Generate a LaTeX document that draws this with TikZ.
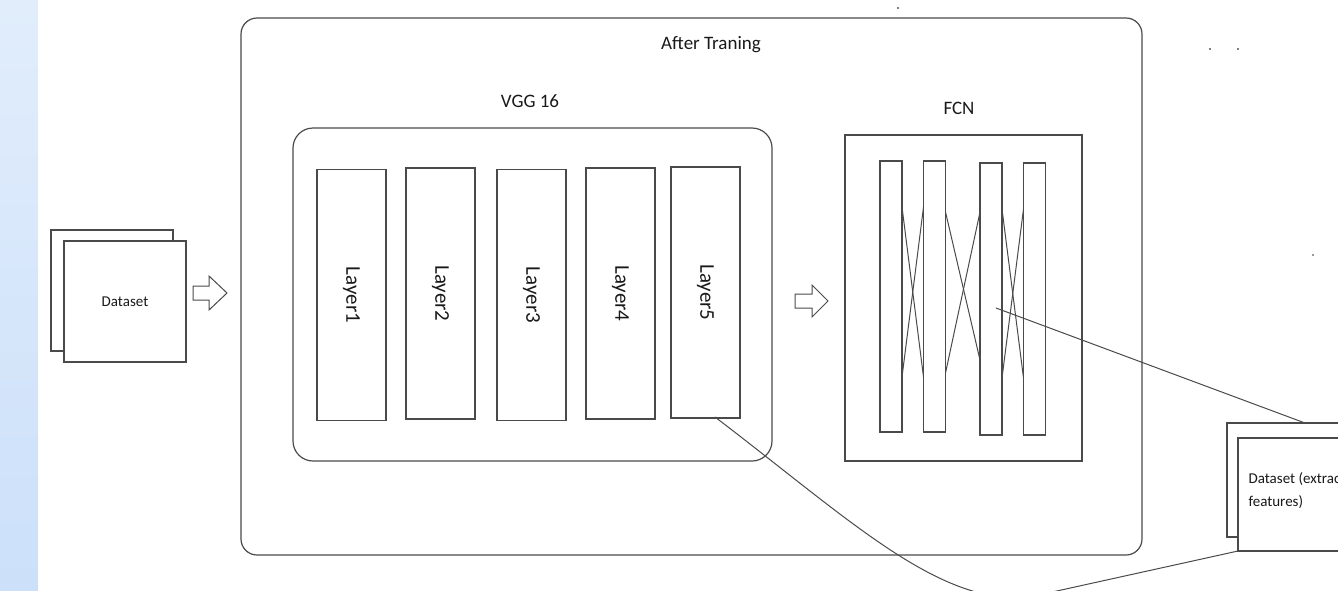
\documentclass[tikz,border=0pt]{standalone}
\usepackage{fontspec}
\setmainfont{Carlito}

\definecolor{stripTop}{HTML}{E1EDFB}
\definecolor{stripBot}{HTML}{CCE0FA}
\definecolor{lineGray}{HTML}{4A4A4A}

\tikzset{
  boxline/.style={draw=lineGray, line width=1.2pt, fill=white, inner sep=0pt, outer sep=0pt},
  layerbox/.style={boxline, minimum width=69pt, minimum height=251pt},
  fcncol/.style={boxline, minimum width=22pt},
  title/.style={font=\fontsize{19}{22}\selectfont, text=black!90},
  hollow/.style={draw=lineGray, line width=1pt, fill=white, line join=miter}
}

\begin{document}
\begin{tikzpicture}[x=1pt, y=-1pt, line width=1.2pt]
    \useasboundingbox (0,0) rectangle (1338,590);
    \clip (0,0) rectangle (1338,590);

    % blue strip on the left
    \shade[top color=stripTop, bottom color=stripBot] (0,0) rectangle (38,590);

    % input dataset (stack of two sheets)
    \node[boxline, minimum width=122pt, minimum height=121pt] (databack) at (112,290.5) {};
    \node[boxline, minimum width=122pt, minimum height=121pt,
          font=\fontsize{15}{18}\selectfont, text=black!90] (data) at (125,301.5) {Dataset};

    % hollow arrow into the trained model
    \draw[hollow] (193,286) -- (209,286) -- (209,276) -- (227,293) -- (209,310) -- (209,300) -- (193,300) -- cycle;

    % outer frame: after training
    \node[boxline, fill=none, rounded corners=16pt, minimum width=901pt, minimum height=537pt] (after) at (691.5,286.5) {};
    \node[title] (aftertitle) at (711,45) {After Traning};

    % VGG 16 block
    \node[boxline, rounded corners=20pt, minimum width=479pt, minimum height=333pt] (vgg) at (532.5,294.5) {};
    \node[title] (vggtitle) at (530,101) {VGG 16};

    \foreach \name/\cx/\cy/\txt in {layer1/351.5/295/Layer1, layer2/440.5/293.5/Layer2,
                                    layer3/531.5/295/Layer3, layer4/620.5/293.5/Layer4,
                                    layer5/705.5/292.5/Layer5}
        \node[layerbox, font=\fontsize{21}{24}\selectfont, text=black!90] (\name) at (\cx,\cy) {\rotatebox{-90}{\txt}};

    % hollow arrow into the FCN
    \draw[hollow] (795,294) -- (812,294) -- (812,285) -- (828,301) -- (812,317) -- (812,308) -- (795,308) -- cycle;

    % FCN block
    \node[boxline, minimum width=237pt, minimum height=326pt] (fcn) at (963.5,298) {};
    \node[title] (fcntitle) at (959,108) {FCN};

    \node[fcncol, minimum height=271pt] (col1) at (891,296.5) {};
    \node[fcncol, minimum height=271pt] (col2) at (934.5,296.5) {};
    \node[fcncol, minimum height=272pt] (col3) at (991,299) {};
    \node[fcncol, minimum height=272pt] (col4) at (1034.5,299) {};

    % connections between the columns
    \draw[lineGray, line width=1pt] (col1.east |- 0,207) -- (col2.west |- 0,377);
    \draw[lineGray, line width=1pt] (col2.west |- 0,207) -- (col1.east |- 0,377);
    \draw[lineGray, line width=1pt] (col2.east |- 0,212) -- (col3.west |- 0,360);
    \draw[lineGray, line width=1pt] (col3.west |- 0,212) -- (col2.east |- 0,373);
    \draw[lineGray, line width=1pt] (col3.east |- 0,209) -- (col4.west |- 0,378);
    \draw[lineGray, line width=1pt] (col4.west |- 0,209) -- (col3.east |- 0,378);

    % extracted features dataset
    \node[boxline, minimum width=140pt, minimum height=114pt] (extback) at (1297,480) {};
    \node[boxline, minimum width=140pt, minimum height=113pt] (ext) at (1308,494.5) {};
    \node[anchor=west, align=left, inner sep=0pt, font=\fontsize{15}{23}\selectfont, text=black!90]
        (exttext) at (1248,491) {Dataset (extracted\\features)};

    % links to the extracted dataset
    \coordinate (fcnmid) at (996,308);
    \coordinate (l5foot) at (715,417);
    \draw[lineGray, line width=1pt] (fcnmid) -- (extback.north -| 1305,0);
    \draw[lineGray, line width=1pt] (l5foot) .. controls (850,520) and (935,602) .. (1025,598) -- (ext.south west);

    % stray specks
    \fill[black!50] (897,7) rectangle (899,9);
    \fill[black!50] (1209,48) rectangle (1211,50);
    \fill[black!50] (1237,48) rectangle (1239,50);
    \fill[black!40] (1312,254) rectangle (1314,256);
\end{tikzpicture}
\end{document}
